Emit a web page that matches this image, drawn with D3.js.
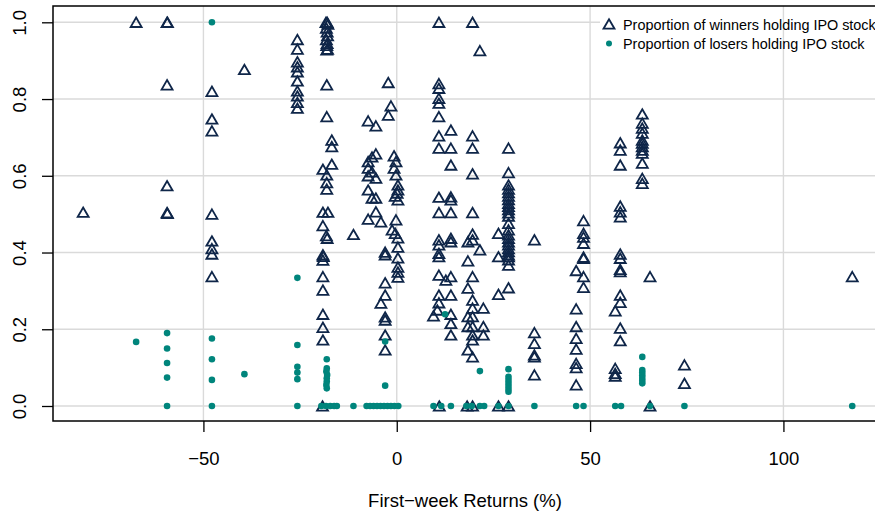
<!DOCTYPE html>
<html>
<head>
<meta charset="utf-8">
<script src="https://cdn.jsdelivr.net/npm/d3@7"></script>
<style>
  html, body { margin: 0; padding: 0; background: #fff; }
  svg { display: block; font-family: "Liberation Sans", Arial, Helvetica, sans-serif; }
</style>
</head>
<body>
<svg id="chart" width="875" height="517"></svg>
<script>
// First-week return (%) of each IPO and the share of winners / losers still holding it
const winners = [
  [-81.1, 0.505],
  [-67.4, 1.0],
  [-59.4, 1.0], [-59.3, 1.0], [-59.4, 0.837], [-59.4, 0.574], [-59.4, 0.504], [-59.3, 0.502],
  [-47.8, 0.82], [-47.8, 0.748], [-47.8, 0.717], [-47.8, 0.5], [-47.8, 0.43], [-47.8, 0.41], [-47.8, 0.396], [-47.8, 0.337],
  [-39.4, 0.877],
  [-25.7, 0.955], [-25.7, 0.93], [-25.7, 0.897], [-25.7, 0.884], [-25.7, 0.871], [-25.7, 0.847], [-25.7, 0.821], [-25.7, 0.808], [-25.7, 0.791], [-25.7, 0.776],
  [-18.3, 1.0], [-18.0, 1.0], [-17.8, 0.995], [-18.2, 0.985], [-18.0, 0.975], [-17.9, 0.965], [-18.2, 0.955], [-18.0, 0.945], [-18.1, 0.94], [-17.9, 0.93], [-18.1, 0.928],
  [-18.1, 0.837], [-18.1, 0.754], [-16.8, 0.693], [-16.8, 0.676], [-19.1, 0.617], [-16.8, 0.63], [-18.1, 0.602], [-18.1, 0.582], [-18.1, 0.565],
  [-19.1, 0.505], [-17.8, 0.505], [-19.1, 0.47], [-18.2, 0.444], [-18.0, 0.437], [-19.1, 0.394], [-19.0, 0.39], [-19.1, 0.38],
  [-19.1, 0.337], [-19.1, 0.302], [-19.1, 0.239], [-19.1, 0.205], [-19.1, 0.172], [-19.2, 0.0],
  [-11.2, 0.447],
  [-7.4, 0.743], [-5.4, 0.73], [-2.2, 0.843], [-1.5, 0.782], [-2.2, 0.758],
  [-7.4, 0.637], [-6.4, 0.649], [-5.4, 0.657], [-7.4, 0.62], [-6.4, 0.61], [-7.4, 0.6], [-5.4, 0.594],
  [-0.7, 0.652], [-0.2, 0.637], [-0.7, 0.62], [-0.2, 0.602], [0.3, 0.576],
  [-7.4, 0.563], [0.3, 0.563], [0.1, 0.555], [-6.4, 0.542], [-5.4, 0.542], [-0.4, 0.547], [0.3, 0.537],
  [-5.4, 0.506], [-7.4, 0.487], [-4.1, 0.48],
  [-0.2, 0.485], [-1.2, 0.459], [-0.4, 0.45], [0.3, 0.438], [0.3, 0.414], [-3.0, 0.401], [-3.0, 0.394], [0.3, 0.386], [0.3, 0.362], [0.3, 0.349], [0.3, 0.336],
  [-3.0, 0.321], [-3.0, 0.289], [-4.1, 0.268], [-3.0, 0.232], [-3.0, 0.224], [-3.0, 0.185], [-3.0, 0.146],
  [10.9, 1.0], [10.9, 0.84], [10.9, 0.828], [10.9, 0.802], [10.9, 0.789], [10.9, 0.754], [10.9, 0.704], [10.9, 0.672],
  [10.9, 0.544], [10.9, 0.504], [10.9, 0.433], [10.9, 0.42], [10.9, 0.398], [10.9, 0.389], [10.9, 0.341], [10.9, 0.289],
  [10.9, 0.269], [10.5, 0.25], [9.5, 0.235], [11.0, 0.0],
  [14.0, 0.719], [14.0, 0.672], [14.0, 0.628], [14.0, 0.545], [14.0, 0.537], [14.0, 0.504], [14.0, 0.437], [14.0, 0.428],
  [12.7, 0.328], [14.0, 0.337], [14.0, 0.289], [14.0, 0.239], [14.0, 0.215], [14.0, 0.185],
  [19.6, 1.0], [21.5, 0.926], [19.6, 0.704], [19.6, 0.672], [19.6, 0.605], [19.6, 0.504], [19.6, 0.448], [19.6, 0.433],
  [18.4, 0.428], [21.5, 0.407], [18.4, 0.378], [19.6, 0.337], [18.4, 0.307], [19.6, 0.276], [19.6, 0.255], [22.4, 0.255],
  [18.4, 0.233], [19.6, 0.233], [18.4, 0.207], [19.6, 0.207], [22.4, 0.207], [19.6, 0.185], [22.4, 0.185], [19.6, 0.172],
  [18.4, 0.146], [19.6, 0.128], [18.2, 0.0], [19.6, 0.0],
  [26.3, 0.45], [26.3, 0.389], [26.3, 0.291], [28.9, 0.308], [28.9, 0.672], [28.9, 0.608],
  [28.9, 0.576], [28.9, 0.565], [28.9, 0.556], [28.9, 0.547], [28.9, 0.538], [28.9, 0.528], [28.9, 0.52], [28.9, 0.512],
  [28.9, 0.503], [28.9, 0.495], [28.9, 0.476], [28.9, 0.459], [28.9, 0.446], [28.9, 0.437], [28.9, 0.428], [28.9, 0.42],
  [28.9, 0.41], [28.9, 0.402], [28.9, 0.394], [28.9, 0.389], [28.9, 0.381], [28.9, 0.367], [26.3, 0.0], [28.9, 0.0],
  [35.6, 0.433], [35.6, 0.191], [35.6, 0.163], [35.6, 0.133], [35.6, 0.128], [35.6, 0.081],
  [46.4, 0.353], [46.4, 0.253], [46.4, 0.207], [46.4, 0.176], [46.4, 0.148], [46.4, 0.111], [46.4, 0.1], [46.4, 0.055],
  [48.3, 0.483], [48.3, 0.45], [48.3, 0.44], [48.3, 0.424], [48.3, 0.388], [48.3, 0.385], [48.3, 0.337], [48.3, 0.309],
  [57.8, 0.686], [57.8, 0.667], [57.8, 0.628], [57.8, 0.521], [57.8, 0.506], [57.8, 0.493], [57.8, 0.396], [57.8, 0.385],
  [57.8, 0.356], [57.8, 0.35], [57.8, 0.289], [57.8, 0.27], [57.8, 0.203], [57.8, 0.17],
  [56.5, 0.248], [56.5, 0.098], [56.5, 0.085], [56.5, 0.078],
  [63.5, 0.761], [63.5, 0.737], [63.5, 0.724], [63.5, 0.711], [63.5, 0.693], [63.5, 0.685], [63.5, 0.676], [63.5, 0.667],
  [63.5, 0.659], [63.5, 0.633], [63.5, 0.593], [63.5, 0.58], [65.5, 0.337], [65.5, 0.0],
  [74.4, 0.107], [74.4, 0.059],
  [117.8, 0.337]
];

const losers = [
  [-67.4, 0.167],
  [-59.4, 0.19], [-59.4, 0.15], [-59.4, 0.112], [-59.4, 0.074], [-59.4, 0.0],
  [-47.8, 1.0], [-47.8, 0.176], [-47.8, 0.122], [-47.8, 0.068], [-47.8, 0.0],
  [-39.4, 0.083],
  [-25.7, 0.334], [-25.7, 0.159], [-25.7, 0.102], [-25.7, 0.087], [-25.7, 0.07], [-25.7, 0.0],
  [-18.1, 0.122], [-18.1, 0.098], [-18.2, 0.09], [-18.0, 0.081], [-18.1, 0.072], [-18.1, 0.064], [-18.2, 0.055], [-18.1, 0.046],
  [-19.5, 0.0], [-18.3, 0.0], [-17.2, 0.0], [-16.2, 0.0], [-15.5, 0.0],
  [-11.2, 0.0],
  [-3.0, 0.168], [-3.0, 0.053],
  [-7.8, 0.0], [-6.9, 0.0], [-6.0, 0.0], [-5.1, 0.0], [-4.2, 0.0], [-3.3, 0.0], [-2.4, 0.0], [-1.5, 0.0], [-0.6, 0.0], [0.4, 0.0],
  [9.5, 0.0], [11.5, 0.0], [12.5, 0.239], [14.0, 0.0],
  [21.5, 0.091], [18.0, 0.0], [19.4, 0.0], [21.5, 0.0], [22.6, 0.0],
  [28.9, 0.096], [28.9, 0.076], [28.9, 0.068], [28.9, 0.06], [28.9, 0.052], [28.9, 0.044], [28.9, 0.037], [26.3, 0.0], [28.9, 0.0],
  [35.6, 0.0],
  [46.4, 0.0], [48.3, 0.0],
  [56.5, 0.0], [58.0, 0.0],
  [63.5, 0.128], [63.5, 0.094], [63.5, 0.087], [63.5, 0.08], [63.5, 0.073], [63.5, 0.066], [63.5, 0.059], [65.5, 0.0],
  [74.4, 0.0],
  [117.8, 0.0]
];

const xTicks = [-50, 0, 50, 100];
const xTickLabels = ["\u221250", "0", "50", "100"];
const yTicks = [0, 0.2, 0.4, 0.6, 0.8, 1.0];
const yTickLabels = ["0.0", "0.2", "0.4", "0.6", "0.8", "1.0"];
const legendLabels = ["Proportion of winners holding IPO stock", "Proportion of losers holding IPO stock"];
const xTitle = "First\u2212week Returns (%)";

const navy = "#0f2649";
const teal = "#00857c";
const gridColor = "#dadada";
const axisFont = 18.5;

const plot = { left: 53, top: 6, right: 877, bottom: 421 };

const x = d3.scaleLinear().domain([-88.9, 124.2]).range([plot.left, plot.right]);
const y = d3.scaleLinear().domain([-0.0391, 1.0425]).range([plot.bottom, plot.top]);

const svg = d3.select("#chart");

// horizontal grid
svg.append("g").selectAll("line").data(yTicks).join("line")
  .attr("x1", plot.left).attr("x2", plot.right)
  .attr("y1", d => y(d)).attr("y2", d => y(d))
  .attr("stroke", gridColor).attr("stroke-width", 1.4);

// legend backdrop
const lg = { x: 600, y: 8 };
svg.append("rect")
  .attr("x", lg.x).attr("y", lg.y).attr("width", plot.right - lg.x).attr("height", 48)
  .attr("fill", "#fff");

// vertical grid
svg.append("g").selectAll("line").data(xTicks).join("line")
  .attr("x1", d => x(d)).attr("x2", d => x(d))
  .attr("y1", plot.top).attr("y2", plot.bottom)
  .attr("stroke", gridColor).attr("stroke-width", 1.4);

const tri = "M0,-4.8L5.5,4.7L-5.5,4.7Z";

// winners: open triangles
svg.append("g").selectAll("path").data(winners).join("path")
  .attr("d", tri)
  .attr("transform", d => `translate(${x(d[0])},${y(d[1])})`)
  .attr("fill", "none").attr("stroke", navy).attr("stroke-width", 1.8);

// losers: filled dots
svg.append("g").selectAll("circle").data(losers).join("circle")
  .attr("cx", d => x(d[0])).attr("cy", d => y(d[1])).attr("r", 3.3)
  .attr("fill", teal);

// frame
svg.append("rect")
  .attr("x", plot.left).attr("y", plot.top)
  .attr("width", plot.right - plot.left).attr("height", plot.bottom - plot.top)
  .attr("fill", "none").attr("stroke", "#000").attr("stroke-width", 1.5);

// x axis
const xAxis = d3.axisBottom(x).tickValues(xTicks)
  .tickFormat((d, i) => xTickLabels[i]).tickSize(11);
const gx = svg.append("g").attr("transform", `translate(0,${plot.bottom})`).call(xAxis);
gx.select(".domain").remove();
gx.selectAll(".tick line").attr("stroke", "#000").attr("stroke-width", 1.3);
gx.selectAll(".tick text")
  .attr("font-size", axisFont).attr("fill", "#000")
  .attr("font-family", "Liberation Sans, Arial, sans-serif")
  .attr("y", 43.5).attr("dy", null);

// y axis
const yAxis = d3.axisLeft(y).tickValues(yTicks)
  .tickFormat((d, i) => yTickLabels[i]).tickSize(11).tickPadding(0);
const gy = svg.append("g").attr("transform", `translate(${plot.left},0)`).call(yAxis);
gy.select(".domain").remove();
gy.selectAll(".tick line").attr("stroke", "#000").attr("stroke-width", 1.3);
gy.selectAll(".tick text")
  .attr("font-size", axisFont).attr("fill", "#000")
  .attr("font-family", "Liberation Sans, Arial, sans-serif")
  .attr("x", null).attr("dy", null)
  .attr("text-anchor", "middle")
  .attr("dominant-baseline", "central")
  .attr("transform", `translate(${19 - plot.left},0) rotate(-90)`);

// axis title
svg.append("text")
  .attr("x", (plot.left + plot.right) / 2).attr("y", 507)
  .attr("text-anchor", "middle").attr("font-size", axisFont).attr("fill", "#000")
  .text(xTitle);

// legend entries
const legend = svg.append("g").attr("transform", `translate(609,0)`);
legend.append("path").attr("d", tri).attr("transform", "translate(0,24)")
  .attr("fill", "none").attr("stroke", navy).attr("stroke-width", 1.8);
legend.append("circle").attr("cx", 0).attr("cy", 43.5).attr("r", 3).attr("fill", teal);
legend.selectAll("text").data(legendLabels).join("text")
  .attr("x", 14).attr("y", (d, i) => 30 + i * 18.5)
  .attr("font-size", 14.4).attr("fill", "#000")
  .text(d => d);
</script>
</body>
</html>
